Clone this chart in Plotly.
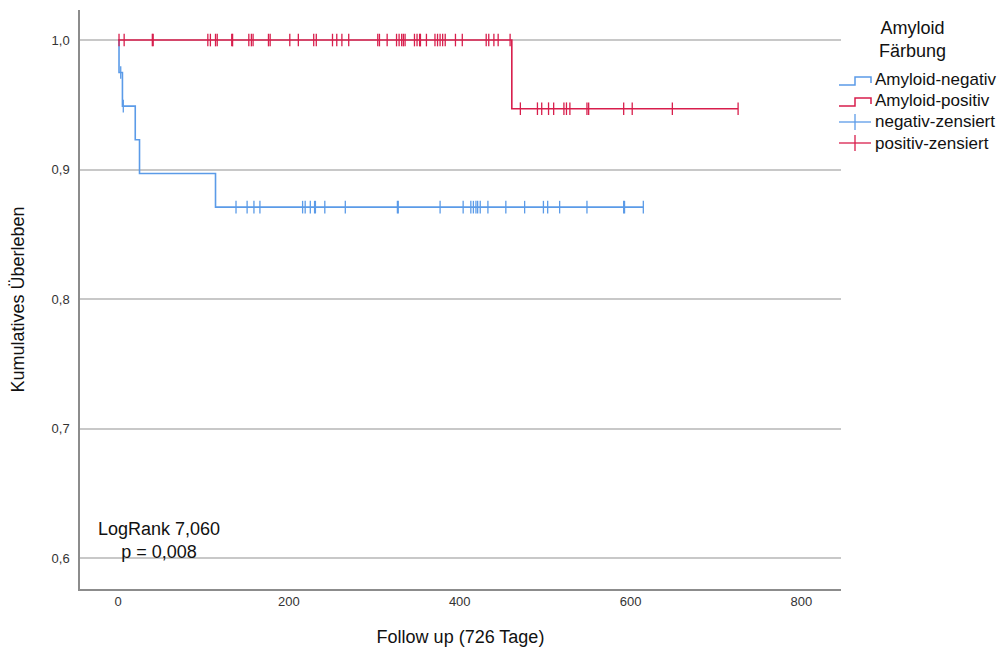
import plotly.graph_objects as go

# ---- data ----
neg_step_days = [0, 1, 5, 20, 25, 114, 615]
neg_step_surv = [1.0, 0.975, 0.949, 0.923, 0.897, 0.871, 0.871]

pos_step_days = [0, 461, 726]
pos_step_surv = [1.0, 0.947, 0.947]

neg_cens_days = [3, 6, 138, 151, 159, 166, 216, 219, 225, 230, 231, 242, 266,
                 327, 328, 377, 404, 413, 416, 419, 421, 424, 433, 454, 476,
                 498, 503, 517, 549, 592, 593, 615]
neg_cens_surv = [0.975, 0.949] + [0.871] * 30

pos_cens_days_hi = [1, 7, 40, 41, 105, 108, 114, 116, 133, 134, 153, 156, 158,
                    176, 178, 201, 211, 229, 232, 251, 256, 262, 270, 304, 306,
                    315, 326, 329, 332, 334, 336, 347, 350, 353, 354, 361, 371,
                    374, 377, 380, 383, 395, 403, 431, 434, 440, 445, 459]
pos_cens_days_lo = [471, 491, 496, 504, 510, 522, 525, 529, 549, 551, 592, 602,
                    649, 726]
pos_cens_days = pos_cens_days_hi + pos_cens_days_lo
pos_cens_surv = [1.0] * len(pos_cens_days_hi) + [0.947] * len(pos_cens_days_lo)

x_ticks = [0, 200, 400, 600, 800]
y_ticks = [0.6, 0.7, 0.8, 0.9, 1.0]

legend_labels = ["Amyloid-negativ", "Amyloid-positiv",
                 "negativ-zensiert", "positiv-zensiert"]

BLUE = "#5b9be8"
RED = "#d81e4c"
FONT = "Liberation Sans"
legend_colors = [BLUE, RED, BLUE, RED]
legend_kinds = ["step", "step", "cross", "cross"]

W, H = 1000, 649
ML, MR, MT, MB = 80, 159, 10, 60
PW, PH = W - ML - MR, H - MT - MB


def px_x(px):
    return (px - ML) / PW


def px_y(py):
    return (H - MB - py) / PH


fig = go.Figure()

fig.add_trace(go.Scatter(x=neg_step_days, y=neg_step_surv, mode="lines",
                         line=dict(color=BLUE, width=1.6, shape="hv"),
                         name="Amyloid-negativ", showlegend=False))
fig.add_trace(go.Scatter(x=pos_step_days, y=pos_step_surv, mode="lines",
                         line=dict(color=RED, width=1.6, shape="hv"),
                         name="Amyloid-positiv", showlegend=False))
fig.add_trace(go.Scatter(x=neg_cens_days, y=neg_cens_surv, mode="markers",
                         marker=dict(symbol="line-ns", size=9,
                                     line=dict(color=BLUE, width=1.3)),
                         name="negativ-zensiert", showlegend=False))
fig.add_trace(go.Scatter(x=pos_cens_days, y=pos_cens_surv, mode="markers",
                         marker=dict(symbol="line-ns", size=9,
                                     line=dict(color=RED, width=1.3)),
                         name="positiv-zensiert", showlegend=False))

fig.add_annotation(x=-26, y=0.614, xref="x", yref="y", xanchor="left",
                   yanchor="middle", align="center", showarrow=False,
                   text="LogRank 7,060<br>p = 0,008",
                   font=dict(family=FONT, size=18, color="#111"))

# legend (drawn manually to mimic the step / cross glyphs)
fig.add_annotation(x=px_x(913), y=px_y(40), xref="paper", yref="paper",
                   xanchor="center", yanchor="middle", align="center",
                   showarrow=False, text="Amyloid<br>Färbung",
                   font=dict(family=FONT, size=18, color="#111"))
row_y = [80, 101, 122, 143]
for lab, col, kind, py in zip(legend_labels, legend_colors, legend_kinds, row_y):
    fig.add_annotation(x=px_x(873), y=px_y(py), xref="paper", yref="paper",
                       xanchor="left", yanchor="middle", showarrow=False,
                       text=lab, font=dict(family=FONT, size=17, color="#111"))
    if kind == "step":
        path = (f"M {px_x(839)},{px_y(py + 5)} L {px_x(855)},{px_y(py + 5)} "
                f"L {px_x(855)},{px_y(py - 3)} L {px_x(871)},{px_y(py - 3)} "
                f"L {px_x(871)},{px_y(py + 3)}")
        fig.add_shape(type="path", path=path, xref="paper", yref="paper",
                      line=dict(color=col, width=1.5))
    else:
        fig.add_shape(type="line", xref="paper", yref="paper",
                      x0=px_x(839), x1=px_x(871), y0=px_y(py), y1=px_y(py),
                      line=dict(color=col, width=1.3))
        fig.add_shape(type="line", xref="paper", yref="paper",
                      x0=px_x(855), x1=px_x(855), y0=px_y(py - 8),
                      y1=px_y(py + 8), line=dict(color=col, width=1.3))

fig.update_layout(
    width=W, height=H,
    margin=dict(l=ML, r=MR, t=MT, b=MB),
    paper_bgcolor="white", plot_bgcolor="white",
    separators=",.",
    showlegend=False,
    font=dict(family=FONT, color="#111"),
    xaxis=dict(range=[-44.7, 846.5], tickvals=x_ticks, showgrid=False,
               zeroline=False, showline=True, linecolor="#8c8c8c", linewidth=1.5,
               ticks="", tickfont=dict(family=FONT, size=13, color="#333"),
               title=dict(text="Follow up (726 Tage)", standoff=22,
                          font=dict(family=FONT, size=18, color="#111")),
               automargin=False),
    yaxis=dict(range=[0.5762, 1.0232], tickvals=y_ticks, tickformat=".1f",
               showgrid=True, gridcolor="#c8c8c8", gridwidth=1.5,
               zeroline=False, showline=True, linecolor="#8c8c8c", linewidth=1.5,
               ticks="", ticklabelstandoff=6,
               tickfont=dict(family=FONT, size=13, color="#333"),
               title=dict(text="Kumulatives Überleben", standoff=22,
                          font=dict(family=FONT, size=18, color="#111")),
               automargin=False),
)

fig.write_html("out.html", config={"displayModeBar": False},
               post_script="document.body.style.margin='0';")
